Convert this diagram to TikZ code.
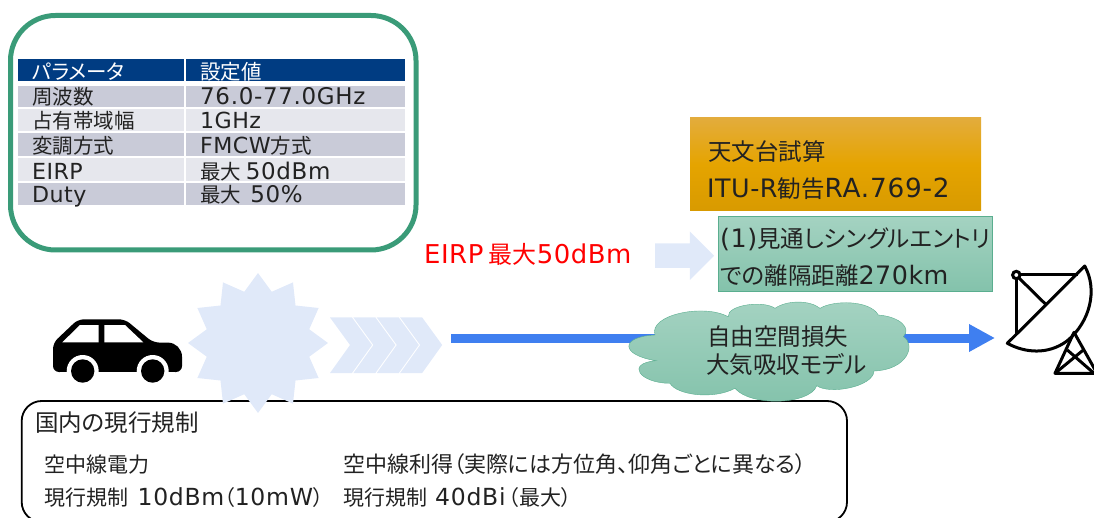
\documentclass[tikz,border=0pt]{standalone}
\usepackage{fontspec}
\setmainfont{Noto Sans CJK JP}[RawFeature=+palt]
\newfontfamily\latinfont{DejaVu Sans}[Scale=1.08,LetterSpace=2]
\newfontfamily\digitfont{DejaVu Sans}[Scale=1.12,LetterSpace=3]
\newcommand{\en}[1]{{\latinfont #1}}
\newcommand{\num}[1]{{\digitfont #1}}
\usetikzlibrary{arrows.meta,shapes.geometric,shapes.arrows}
\definecolor{headblue}{HTML}{003C82}
\definecolor{rowdark}{HTML}{C9CBD8}
\definecolor{rowlight}{HTML}{E6E7ED}
\definecolor{panelgreen}{HTML}{3A9B78}
\definecolor{palefill}{HTML}{E0E9F9}
\definecolor{beamblue}{HTML}{3F7FF0}
\definecolor{softgreen}{HTML}{5AAE8F}
\definecolor{inktext}{HTML}{222222}
\definecolor{ambertop}{HTML}{E3AC3C}
\definecolor{ambermid}{HTML}{E5A400}
\definecolor{amberlow}{HTML}{D89A00}
\begin{document}
\begin{tikzpicture}[x=1pt, y=-1pt,
  label/.style = {anchor=base west, inner sep=0pt, text=inktext, font=\fontsize{21}{25}\selectfont},
  biglabel/.style = {label, font=\fontsize{23.5}{28}\selectfont},
  cell/.style = {label, font=\fontsize{20.5}{24}\selectfont},
  headcell/.style = {cell, text=white},
  greenfill/.style = {draw=softgreen, top color=softgreen!55!white, bottom color=softgreen!75!white}]
\useasboundingbox (0,0) rectangle (1094,518);
\clip (0,0) rectangle (1094,518);

\draw[panelgreen, line width=5pt, rounded corners=45pt] (10.5,15.5) rectangle (416,250);

\fill[headblue] (18.3,59.3) rectangle (183.7,80.7);
\fill[headblue] (185.7,59.3) rectangle (405,80.7);
\fill[rowdark] (18.3,86) rectangle (183.7,106.7);
\fill[rowdark] (185.7,86) rectangle (405,106.7);
\fill[rowlight] (18.3,109) rectangle (183.7,131);
\fill[rowlight] (185.7,109) rectangle (405,131);
\fill[rowdark] (18.3,133.3) rectangle (183.7,156);
\fill[rowdark] (185.7,133.3) rectangle (405,156);
\fill[rowlight] (18.3,158.3) rectangle (183.7,180.7);
\fill[rowlight] (185.7,158.3) rectangle (405,180.7);
\fill[rowdark] (18.3,183) rectangle (183.7,205.3);
\fill[rowdark] (185.7,183) rectangle (405,205.3);

\node[headcell] (param) at (32,80) {パラメータ};
\node[headcell] (value) at (200,80) {設定値};
\node[cell] (freq) at (32,105) {周波数};
\node[cell] (freqval) at (200,105) {\num{76.0-77.0GHz}};
\node[cell] (band) at (32,129) {占有帯域幅};
\node[cell] (bandval) at (200,129) {\en{1GHz}};
\node[cell] (mod) at (32,154) {変調方式};
\node[cell] (modval) at (200,154) {\en{FMCW}方式};
\node[cell] (eirp) at (32,180) {\en{EIRP}};
\node[cell] (eirpval) at (200,180) {最大 \num{50dBm}};
\node[cell] (duty) at (32,203) {\en{Duty}};
\node[cell] (dutyval) at (200,203) {最大\ \ \num{50\%}};

\fill[top color=ambertop, bottom color=amberlow, middle color=ambermid] (690,118) rectangle (981,211);
\node[biglabel] (obs) at (708,161) {天文台試算};
\node[biglabel] (itu) at (707,198) {\en{ITU-R}勧告\num{RA.769-2}};
\draw[greenfill] (718.5,216.5) rectangle (992.5,291.5);
\node[biglabel] (los) at (720,247.5) {\en{(1)}見通しシングルエントリ};
\node[biglabel] (dist) at (720,285) {での離隔距離\en{270km}};

\node[label, text=red, font=\fontsize{24}{28}\selectfont] (limit) at (424,264) {\en{EIRP} 最大\en{50dBm}};
\node[single arrow, fill=palefill, inner sep=12pt, minimum width=48.3pt, minimum height=59pt, single arrow head extend=12pt] (toresult) at (678.5,255.7) {};

\draw[line width=1.8pt, rounded corners=20pt] (21.7,401) rectangle (847,522);
\node[biglabel] (rules) at (35,431) {国内の現行規制};
\node[label] (power) at (44,472) {空中線電力};
\node[label] (powerval) at (44,505) {現行規制\ \ \num{10dBm}（\num{10mW}）};
\node[label, font=\fontsize{22}{26}\selectfont] (gain) at (343,472) {空中線利得（実際には方位角、仰角ごとに異なる）};
\node[label] (gainval) at (343,505) {現行規制\hspace{8pt}\num{40dBi}\hspace{3pt}（最大）};

\node[star, star points=12, star point ratio=1.32, minimum size=140pt, inner sep=0pt, fill=palefill] (burst) at (258,343) {};

\fill[palefill] (330,317.5) -- (352,317.5) -- (372,345) -- (352,373) -- (330,373) -- (350,345) -- cycle;
\fill[palefill] (353.4,317.5) -- (375.4,317.5) -- (395.4,345) -- (375.4,373) -- (353.4,373) -- (373.4,345) -- cycle;
\fill[palefill] (376.8,317.5) -- (398.8,317.5) -- (418.8,345) -- (398.8,373) -- (376.8,373) -- (396.8,345) -- cycle;
\fill[palefill] (400.2,317.5) -- (422.2,317.5) -- (442.2,345) -- (422.2,373) -- (400.2,373) -- (420.2,345) -- cycle;

\coordinate (beamstart) at (451,338);
\coordinate (beamend) at (995,338);
\draw[beamblue, line width=9pt, -{Triangle[length=26pt,width=26pt]}] (beamstart) -- (beamend);

\draw[greenfill] (655,335) .. controls (648.3,315) and (703.3,303.3) .. (728.3,316.7)
  .. controls (726.7,305) and (763.3,300) .. (775,308.3)
  .. controls (786.7,300) and (810,300) .. (820,308.3)
  .. controls (833.3,300) and (870,300) .. (878.3,315)
  .. controls (900,316.7) and (911.7,328.3) .. (903.3,336.7)
  .. controls (916.7,345) and (906.7,370) .. (874,371)
  .. controls (873.3,386.7) and (830,395) .. (816.7,385.7)
  .. controls (810,405) and (750,406.7) .. (735,388.3)
  .. controls (713.3,400) and (676.7,395) .. (670,383.3)
  .. controls (640,383.3) and (625,363.3) .. (656,360.7)
  .. controls (620,355) and (620,336.7) .. (655,335) -- cycle;
\node[biglabel] (loss) at (707,345) {自由空間損失};
\node[biglabel] (atmos) at (706,373) {大気吸収モデル};

\fill[black, rounded corners=6pt] (53,372) -- (53,343) -- (78,319.3) -- (125,319.3) -- (153,342.5) [rounded corners=14pt] -- (182,342.7) [rounded corners=6pt] -- (182,372) -- cycle;
\fill[white] (62.3,342.3) -- (80,325) -- (98.7,325) -- (98.7,342.3) -- cycle;
\fill[white] (104.3,325) -- (125,325) -- (143.3,342.3) -- (104.3,342.3) -- cycle;
\fill[white] (82.7,371) circle (16);
\fill[white] (152.7,371) circle (16);
\fill[white] (60,372) rectangle (175,390);
\fill[black] (82.7,371) circle (11.7);
\fill[black] (152.7,371) circle (11.7);

\draw[line width=3pt, line join=round] (1084.7,266) .. controls (1098,290) and (1090,322) .. (1067,341)
  .. controls (1048,355) and (1025,353) .. (1007.3,343.3) -- cycle;
\draw[line width=3pt] (1016.3,275) circle (3.7);
\draw[line width=3pt] (1020,275) -- (1077.5,275);
\draw[line width=3pt] (1016.3,278.7) -- (1016.3,334);
\draw[line width=3pt] (1019,278) -- (1045.7,304.3);
\draw[line width=3pt, line join=round] (1074,332.3) -- (1055,373.3) -- (1097,373.3) -- cycle;
\draw[line width=3pt] (1067.3,350) -- (1094,373.3);
\draw[line width=3pt] (1083.3,350) -- (1055,373.3);
\end{tikzpicture}
\end{document}
